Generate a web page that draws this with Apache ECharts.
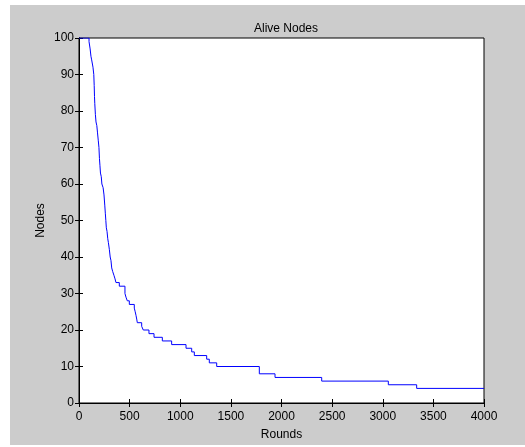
<!DOCTYPE html>
<html>
<head>
<meta charset="utf-8">
<script src="https://cdn.jsdelivr.net/npm/echarts@6/dist/echarts.min.js"></script>
<style>
    html, body { margin: 0; padding: 0; background: #ffffff; }
    .fig-bg { position: absolute; left: 10px; top: 5px; width: 515px; height: 440px; background: #cccccc; }
    #chart { position: absolute; left: 0; top: 0; width: 525px; height: 447px; }
</style>
</head>
<body>
<div class="fig-bg"></div>
<div id="chart"></div>
<script>
    // rounds where the alive count changes, and the count from that round on
    const rounds = [0, 99, 110, 118, 125, 138, 146, 150, 153, 156, 162, 168, 176, 183, 190, 197,
        202, 207, 212, 220, 226, 238, 247, 255, 260, 265, 270, 277, 284, 290, 300, 308, 316, 323,
        333, 345, 356, 365, 398, 454, 464, 477, 497, 546, 555, 563, 570, 576, 619, 635, 691, 741,
        823, 915, 1057, 1113, 1139, 1261, 1287, 1360, 1781, 1936, 2397, 3055, 3335, 4000]
    const aliveNodes = [100, 99, 97, 95, 94, 92, 90, 87, 84, 82, 79, 77, 76, 74, 72, 70,
        67, 65, 63, 62, 60, 59, 57, 54, 52, 50, 48, 47, 45, 44, 42, 40, 39, 37,
        36, 35, 34, 33, 32, 30, 29, 28, 27, 26, 25, 24, 23, 22, 21, 20, 19, 18,
        17, 16, 15, 14, 13, 12, 11, 10, 8, 7, 6, 5, 4, 4]
    const xTicks = [0, 500, 1000, 1500, 2000, 2500, 3000, 3500, 4000]
    const yTicks = [0, 10, 20, 30, 40, 50, 60, 70, 80, 90, 100]

    const font = 'Liberation Sans, Arial, sans-serif'
    const myChart = echarts.init(document.getElementById('chart'))

    let series = rounds.map((r, i) => [r, aliveNodes[i]])

    let tickStyle = { show: true, inside: true, length: 4, lineStyle: { color: '#000', width: 1 } }
    let labelStyle = { color: '#000', fontSize: 12, fontFamily: font, formatter: (v) => String(v) }

    let option = {
        backgroundColor: 'transparent',
        animation: false,
        title: {
            text: 'Alive Nodes',
            left: 281,
            top: 18,
            textAlign: 'center',
            textStyle: { color: '#000', fontSize: 12, fontWeight: 'normal', fontFamily: font }
        },
        grid: {
            left: 79, top: 38, width: 405, height: 365,
            show: true, backgroundColor: '#ffffff', borderColor: '#000', borderWidth: 1
        },
        xAxis: [{
            type: 'value', min: xTicks[0], max: xTicks[xTicks.length - 1], interval: 500,
            name: 'Rounds', nameLocation: 'middle', nameGap: 26, nameMoveOverlap: false,
            nameTextStyle: { color: '#000', fontSize: 12, fontFamily: font },
            axisLine: { show: true, lineStyle: { color: '#000' } },
            axisTick: tickStyle,
            axisLabel: Object.assign({ margin: 8 }, labelStyle),
            splitLine: { show: false }
        }, {
            type: 'value', position: 'top', min: 0, max: 4000, interval: 500,
            axisLine: { show: true, lineStyle: { color: '#000' } },
            axisTick: tickStyle,
            axisLabel: { show: false },
            splitLine: { show: false }
        }],
        yAxis: [{
            type: 'value', min: yTicks[0], max: yTicks[yTicks.length - 1], interval: 10,
            name: 'Nodes', nameLocation: 'middle', nameGap: 32, nameMoveOverlap: false,
            nameTextStyle: { color: '#000', fontSize: 12, fontFamily: font },
            axisLine: { show: true, lineStyle: { color: '#000' } },
            axisTick: tickStyle,
            axisLabel: Object.assign({ margin: 5 }, labelStyle),
            splitLine: { show: false }
        }, {
            type: 'value', position: 'right', min: 0, max: 100, interval: 10,
            axisLine: { show: true, lineStyle: { color: '#000' } },
            axisTick: tickStyle,
            axisLabel: { show: false },
            splitLine: { show: false }
        }],
        series: [{
            type: 'line',
            step: 'end',
            data: series,
            showSymbol: false,
            lineStyle: { color: '#0000ff', width: 1 },
            itemStyle: { color: '#0000ff' }
        }]
    }
    myChart.setOption(option)
</script>
</body>
</html>
